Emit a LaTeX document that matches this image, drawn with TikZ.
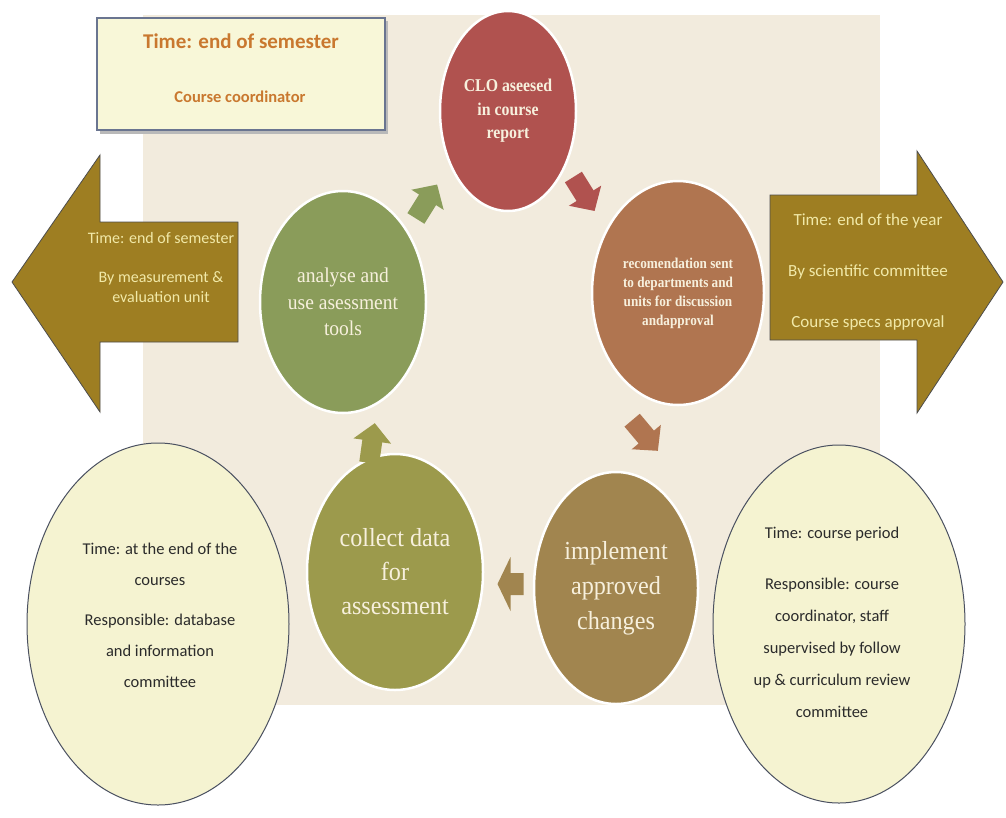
\documentclass[tikz,border=0pt]{standalone}
\usepackage{fontspec}
\setmainfont{Carlito}
\newfontfamily\circfont[FakeStretch=0.93]{Liberation Serif}
\newfontfamily\circbold[FakeStretch=0.88]{Liberation Serif}
\usetikzlibrary{shapes.geometric,calc}
\definecolor{bgbeige}{HTML}{F2EBDD}
\definecolor{cclo}{HTML}{B0524F}
\definecolor{crec}{HTML}{B07550}
\definecolor{cana}{HTML}{8A9C5A}
\definecolor{ccol}{HTML}{9C9A4C}
\definecolor{cimp}{HTML}{A1854F}
\definecolor{bigarr}{HTML}{9E7E22}
\definecolor{arrtext}{HTML}{F1E9A8}
\definecolor{boxfill}{HTML}{F8F7D8}
\definecolor{boxdraw}{HTML}{6A7590}
\definecolor{boxtext}{HTML}{C9782F}
\definecolor{ellfill}{HTML}{F5F3D1}
\definecolor{elldraw}{HTML}{4A5060}
\definecolor{elltext}{HTML}{2B2B2B}
\definecolor{circtext}{HTML}{F7F0DD}
\tikzset{
  cyc/.style={ellipse, draw=white, line width=2.5pt, inner sep=0pt, text=circtext, align=center},
  infoell/.style={ellipse, draw=elldraw, line width=1pt, fill=ellfill, inner sep=0pt},
  elltxt/.style={text=elltext, align=center},
  bigarrow/.style={fill=bigarr, draw=gray!60!black, line width=0.8pt},
  arrtxt/.style={text=arrtext, align=center},
  blockarr/.pic={\fill[pic actions] (-20,-10) -- (2,-10) -- (2,-19) -- (20,0) -- (2,19) -- (2,10) -- (-20,10) -- cycle;},
  fatarr/.pic={\fill[pic actions] (-13,-11) -- (0,-11) -- (0,-27) -- (13,0) -- (0,27) -- (0,11) -- (-13,11) -- cycle;},
}
\begin{document}
\begin{tikzpicture}[x=1pt,y=-1pt]
\useasboundingbox (0,0) rectangle (1006,817);
\fill[bgbeige] (143,15) rectangle (880,705);

% big arrows
\draw[bigarrow] (238,222) -- (100,222) -- (100,155) -- (12,282) -- (100,412) -- (100,342) -- (238,342) -- cycle;
\draw[bigarrow] (770,195) -- (917,195) -- (917,151) -- (1003,282) -- (917,413) -- (917,340) -- (770,340) -- cycle;
\node[arrtxt, font=\fontsize{16}{20}\selectfont] (lat) at (161,267) {Time: end of semester\\[19pt]By measurement \&\\evaluation unit};
\node[arrtxt, font=\fontsize{17}{21}\selectfont] (rat) at (868,272) {Time: end of the year\\[30pt]By scientific committee\\[30pt]Course specs approval};

% top box
\fill[gray!55] (100,21) rectangle (388,134);
\node[draw=boxdraw, line width=1.2pt, fill=boxfill, minimum width=288pt, minimum height=112pt] (tb) at (241,74) {};
\node[text=boxtext, font=\bfseries\fontsize{21}{25}\selectfont] (tbt) at (241,41) {Time: end of semester};
\node[text=boxtext, font=\bfseries\fontsize{16.5}{20}\selectfont] (tbs) at (240,97) {Course coordinator};

% cycle circles
\node[cyc, fill=cclo, minimum width=136pt, minimum height=200pt, font=\circbold\bfseries\fontsize{18}{23.5}\selectfont] (clo) at (508,111) {CLO aseesed\\in course\\report};
\node[cyc, fill=crec, minimum width=172pt, minimum height=224pt, font=\circbold\bfseries\fontsize{15}{19}\selectfont] (rec) at (678,293) {recomendation sent\\to departments and\\units for discussion\\andapproval};
\node[cyc, fill=cimp, minimum width=164pt, minimum height=232pt, font=\circfont\fontsize{26}{35}\selectfont] (imp) at (616,588) {implement\\approved\\changes};
\node[cyc, fill=ccol, minimum width=176pt, minimum height=236pt, font=\circfont\fontsize{26}{34}\selectfont] (col) at (395,572) {collect data\\for\\assessment};
\node[cyc, fill=cana, minimum width=166pt, minimum height=222pt, font=\circfont\fontsize{21}{26.5}\selectfont] (ana) at (343,302) {analyse and\\use asessment\\tools};

% small cycle arrows
\pic[fill=cana, rotate=58] at ($(ana)!0.5!(clo)+(1,-5)$) {blockarr};
\pic[fill=cclo, rotate=-58] at ($(clo)!0.5!(rec)+(-9,-8)$) {blockarr};
\pic[fill=crec, rotate=-50] at ($(rec)!0.5!(imp)+(-2,-5)$) {blockarr};
\pic[fill=cimp, rotate=180] at ($(imp)!0.5!(col)+(5,4)$) {fatarr};
\pic[fill=ccol, rotate=82] at ($(col)!0.5!(ana)+(3,6)$) {blockarr};

% info ellipses
\node[infoell, minimum width=262pt, minimum height=362pt] (le) at (158,624) {};
\node[elltxt, font=\fontsize{16.5}{31}\selectfont] (let) at (160,615) {Time: at the end of the\\courses\\[9pt]Responsible: database\\and information\\committee};
\node[infoell, minimum width=252pt, minimum height=358pt] (re) at (839,624) {};
\node[elltxt, font=\fontsize{16.5}{32}\selectfont] (ret) at (832,622) {Time: course period\\[19pt]Responsible: course\\coordinator, staff\\supervised by follow\\up \& curriculum review\\committee};
\end{tikzpicture}
\end{document}
